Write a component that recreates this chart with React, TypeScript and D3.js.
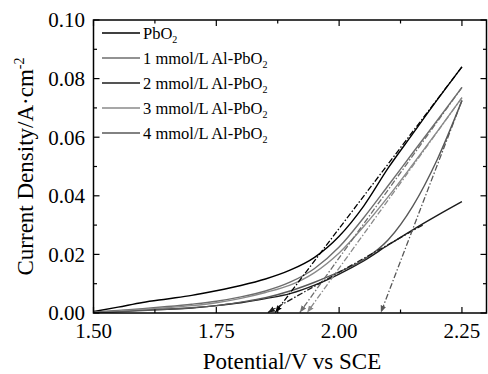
import React from "react";
import * as d3 from "d3";

const seriesNames = [
  "PbO2",
  "1 mmol/L Al-PbO2",
  "2 mmol/L Al-PbO2",
  "3 mmol/L Al-PbO2",
  "4 mmol/L Al-PbO2",
];
const seriesColors = ["#000000", "#6e6e6e", "#1c1c1c", "#8a8a8a", "#585858"];

const potentials = [1.5, 1.55, 1.6, 1.65, 1.7, 1.75, 1.8, 1.85, 1.9, 1.95, 2.0, 2.05, 2.1, 2.15, 2.2, 2.25];

const pbo2 = [0.0005, 0.002, 0.0036, 0.0048, 0.006, 0.0076, 0.0094, 0.0116, 0.0146, 0.019, 0.0262, 0.0365, 0.0495, 0.0612, 0.0728, 0.084];
const al1 = [0.0003, 0.0009, 0.0015, 0.0022, 0.003, 0.004, 0.0055, 0.0075, 0.0105, 0.0152, 0.0225, 0.0325, 0.0435, 0.0547, 0.0658, 0.077];
const al2 = [0.0002, 0.0006, 0.001, 0.0013, 0.0017, 0.0025, 0.0035, 0.0049, 0.0066, 0.0095, 0.0133, 0.0178, 0.0232, 0.0284, 0.0333, 0.038];
const al3 = [0.0002, 0.0007, 0.0012, 0.0018, 0.0025, 0.0035, 0.005, 0.007, 0.0095, 0.0138, 0.0205, 0.0295, 0.0397, 0.0507, 0.062, 0.0735];
const al4 = [0.0001, 0.0004, 0.0008, 0.0013, 0.0018, 0.0025, 0.0037, 0.0052, 0.0075, 0.0105, 0.014, 0.0182, 0.025, 0.0365, 0.0525, 0.0725];
const seriesValues = [pbo2, al1, al2, al3, al4];

// Tafel tangent lines: [startV, startJ, interceptV]
const tangentStartV = [2.25, 2.25, 2.17, 2.25, 2.25];
const tangentStartJ = [0.084, 0.077, 0.03, 0.0735, 0.0725];
const tangentInterceptV = [1.87, 1.92, 1.855, 1.935, 2.085];

const xTicks = [1.5, 1.75, 2.0, 2.25];
const yTicks = [0, 0.02, 0.04, 0.06, 0.08, 0.1];

const W = 488;
const H = 374;
const L = 93.5, R = 486.5, T = 20, B = 313;
const FONT = "'Liberation Serif', 'Times New Roman', serif";

export default function App() {
  const x = d3.scaleLinear().domain([1.5, 2.3]).range([L, R]);
  const y = d3.scaleLinear().domain([0, 0.1]).range([B, T]);
  const line = d3
    .line<number>()
    .x((_, i) => x(potentials[i]))
    .y((d) => y(d))
    .curve(d3.curveMonotoneX);

  const xMinor = d3.range(0, 7).map((i) => 1.5 + i * 0.125).filter((v) => v < 2.3);
  const yMinor = d3.range(0, 11).map((i) => i * 0.01);

  const majLen = 6;
  const minLen = 3.5;

  return (
    <svg
      width={W}
      height={H}
      style={{ position: "absolute", left: 0, top: 0, background: "#fff" }}
      fontFamily={FONT}
    >
      <defs>
        {seriesColors.map((c, i) => (
          <marker
            key={i}
            id={`arr${i}`}
            viewBox="0 0 10 10"
            refX="10"
            refY="5"
            markerWidth="7"
            markerHeight="7"
            markerUnits="userSpaceOnUse"
            orient="auto"
          >
            <path d="M0,1 L10,5 L0,9 Z" fill={c} />
          </marker>
        ))}
        <clipPath id="plotclip">
          <rect x={L} y={T} width={R - L} height={B - T} />
        </clipPath>
      </defs>

      {/* curves */}
      <g clipPath="url(#plotclip)">
        {seriesValues.map((vals, i) => (
          <path key={i} d={line(vals) || ""} fill="none" stroke={seriesColors[i]} strokeWidth={1.4} />
        ))}
        {seriesValues.map((_, i) => (
          <line
            key={"t" + i}
            x1={x(tangentStartV[i])}
            y1={y(tangentStartJ[i])}
            x2={x(tangentInterceptV[i])}
            y2={y(0) - 0.5}
            stroke={seriesColors[i]}
            strokeWidth={1.3}
            strokeDasharray="6,2,1.5,2"
            markerEnd={`url(#arr${i})`}
          />
        ))}
      </g>

      {/* frame */}
      <rect x={L} y={T} width={R - L} height={B - T} fill="none" stroke="#000" strokeWidth={1.5} />

      {/* x ticks */}
      {xMinor.map((v, i) => {
        const isMaj = i % 2 === 0;
        const len = isMaj ? majLen : minLen;
        return (
          <g key={"xt" + i}>
            <line x1={x(v)} x2={x(v)} y1={B} y2={B - len} stroke="#000" strokeWidth={1.2} />
            <line x1={x(v)} x2={x(v)} y1={T} y2={T + len} stroke="#000" strokeWidth={1.2} />
          </g>
        );
      })}
      {xTicks.map((v) => (
        <text key={"xl" + v} x={x(v)} y={338} textAnchor="middle" fontSize={21} fill="#000">
          {d3.format(".2f")(v)}
        </text>
      ))}

      {/* y ticks */}
      {yMinor.map((v, i) => {
        const isMaj = i % 2 === 0;
        const len = isMaj ? majLen : minLen;
        return (
          <g key={"yt" + i}>
            <line x1={L} x2={L + len} y1={y(v)} y2={y(v)} stroke="#000" strokeWidth={1.2} />
            <line x1={R} x2={R - len} y1={y(v)} y2={y(v)} stroke="#000" strokeWidth={1.2} />
          </g>
        );
      })}
      {yTicks.map((v) => (
        <text key={"yl" + v} x={85} y={y(v)} dy="0.35em" textAnchor="end" fontSize={21} fill="#000">
          {d3.format(".2f")(v)}
        </text>
      ))}

      {/* axis titles */}
      <text x={(L + R) / 2 + 2} y={369} textAnchor="middle" fontSize={23} fill="#000">
        Potential/V vs SCE
      </text>
      <text
        transform={`translate(33, ${(T + B) / 2}) rotate(-90)`}
        textAnchor="middle"
        fontSize={23}
        fill="#000"
      >
        Current Density/A·cm
        <tspan fontSize={14} dy="-9">-2</tspan>
      </text>

      {/* legend */}
      {seriesNames.map((name, i) => {
        const ly = 33 + i * 25;
        const base = name.slice(0, -1);
        return (
          <g key={"lg" + i}>
            <line x1={102} x2={140} y1={ly} y2={ly} stroke={seriesColors[i]} strokeWidth={1.5} />
            <text x={143} y={ly + 5.5} fontSize={16.5} fill="#000">
              {base}
              <tspan fontSize={10} dy="4">2</tspan>
            </text>
          </g>
        );
      })}
    </svg>
  );
}
